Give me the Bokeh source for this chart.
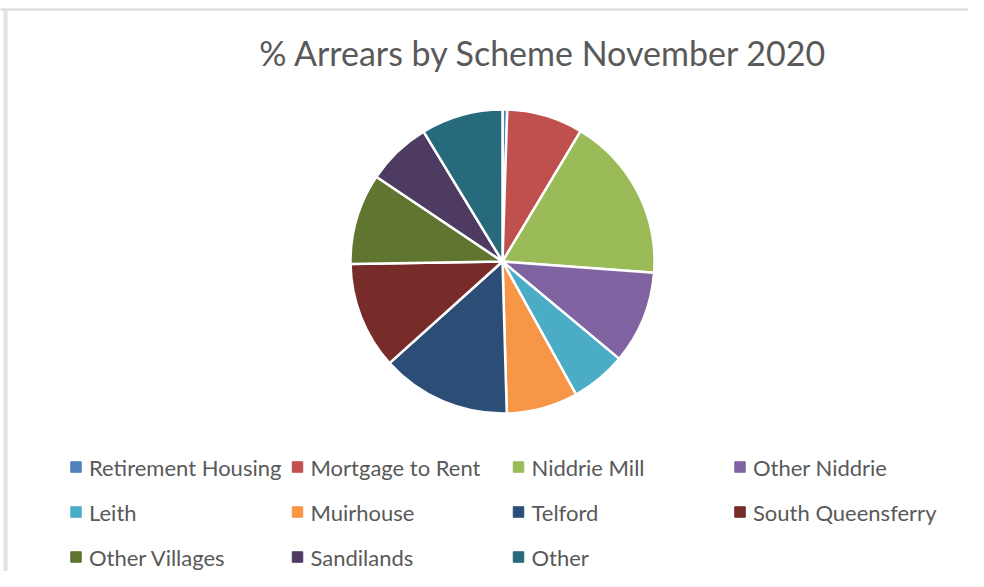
import numpy as np
from bokeh.plotting import figure
from bokeh.models import Range1d, ColumnDataSource
from bokeh.core.properties import value
from bokeh.embed import file_html
from bokeh.resources import INLINE

title = "% Arrears by Scheme November 2020"
schemes = ["Retirement Housing", "Mortgage to Rent", "Niddrie Mill", "Other Niddrie",
           "Leith", "Muirhouse", "Telford", "South Queensferry",
           "Other Villages", "Sandilands", "Other"]
pct = [0.5, 8.1, 17.6, 9.9, 5.9, 7.6, 13.8, 11.4, 9.7, 6.9, 8.7]
colors = ["#4F81BD", "#C0504D", "#9BBB59", "#8064A2", "#4BACC6", "#F79646",
          "#2C4D75", "#772C2A", "#5F7530", "#4D3B62", "#276A7C"]

W, H = 968, 571
p = figure(width=W, height=H, x_range=Range1d(0, W), y_range=Range1d(0, H),
           output_backend="svg", toolbar_location=None,
           x_axis_location=None, y_axis_location=None, min_border=0)
p.grid.visible = False
p.outline_line_color = None
p.background_fill_color = "white"
p.border_fill_color = "white"

# chart frame edges (top line, left bar)
p.segment(x0=[0], y0=[562], x1=[W], y1=[562], line_color="#D9D9D9", line_width=2)
p.segment(x0=[5], y0=[561], x1=[5], y1=[0], line_color="#E3E3E3", line_width=4)

vals = np.array(pct, dtype=float)
frac = vals / vals.sum()
cum = np.concatenate([[0], np.cumsum(frac)])
start = np.pi / 2 - 2 * np.pi * cum[:-1]
end = np.pi / 2 - 2 * np.pi * cum[1:]

cx, cy, r = 502, 310, 152
src = ColumnDataSource(dict(start=start, end=end, color=colors, name=schemes))
p.wedge(x=cx, y=cy, radius=r, start_angle="start", end_angle="end",
        direction="clock", fill_color="color", line_color="white",
        line_width=2.5, source=src)

p.text(x=[543], y=[519.5], text=[title], text_font=value("Lato"),
       text_font_size="34px", text_color="#595959",
       text_align="center", text_baseline="middle")

# legend
col_x = [75.5, 297, 518, 739.5]
row_y = [104.5, 59.5, 14.5]
lx, ly = [], []
for i in range(len(schemes)):
    lx.append(col_x[i % 4])
    ly.append(row_y[i // 4])
lsrc = ColumnDataSource(dict(x=lx, y=ly, tx=[v + 13 for v in lx], name=schemes, color=colors))
p.scatter(x="x", y="y", marker="square", size=10.5, fill_color="color",
          line_color="color", source=lsrc)
p.text(x="tx", y="y", text="name", text_font=value("Lato"), text_font_size="22px",
       text_color="#595959", text_align="left", text_baseline="middle", source=lsrc)

open("out.html", "w").write(file_html(p, INLINE))
